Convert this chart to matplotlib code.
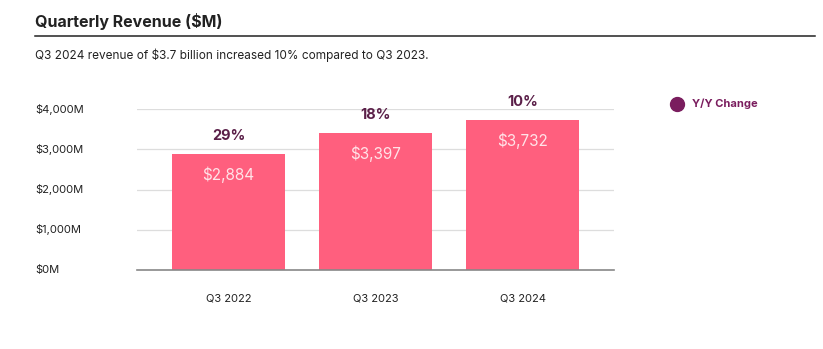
import matplotlib.pyplot as plt
from matplotlib.lines import Line2D

plt.rcParams['font.family'] = ['Inter', 'DejaVu Sans']

quarters = ['Q3 2022', 'Q3 2023', 'Q3 2024']
revenue = [2884, 3397, 3732]
yoy_change = ['29%', '18%', '10%']
yticks = [0, 1000, 2000, 3000, 4000]
ytick_labels = ['$0M', '$1,000M', '$2,000M', '$3,000M', '$4,000M']

bar_color = '#FF5F7E'
purple = '#6E1F57'

fig = plt.figure(figsize=(8.23, 3.49), dpi=100)
ax = fig.add_axes([137/823, 79/349, 477/823, 161/349])

x = range(len(quarters))
ax.bar(x, revenue, width=0.77, color=bar_color, zorder=2)

# подписи на столбцах и над ними
for i, v in enumerate(revenue):
    ax.annotate(f'${v:,}', (i, v), xytext=(0, -15), textcoords='offset points',
                ha='center', va='center', color='#FFE3E8', fontsize=11)
    ax.annotate(yoy_change[i], (i, v), xytext=(0, 13), textcoords='offset points',
                ha='center', va='center', color='#5B2049', fontsize=10.5,
                fontweight='bold', annotation_clip=False)

ax.set_xlim(-0.622, 2.622)
ax.set_ylim(0, 4000)
ax.set_yticks(yticks)
ax.set_yticklabels([])
ax.grid(axis='y', color='#DDDDDD', linewidth=0.9, zorder=0)
ax.set_xticks(list(x))
ax.set_xticklabels(quarters, fontsize=8, color='#222222')
ax.tick_params(axis='x', length=0, pad=17)
ax.tick_params(axis='y', length=0)
for s in ['top', 'right', 'left']:
    ax.spines[s].set_visible(False)
ax.spines['bottom'].set_color('#888888')
ax.spines['bottom'].set_linewidth(1.2)

# подписи оси Y выровнены по левому краю
for t, lab in zip(yticks, ytick_labels):
    y_fig = (79 + t / 4000 * 161) / 349
    fig.text(35/823, y_fig, lab, ha='left', va='center', fontsize=8, color='#222222')

# заголовок
fig.text(35/823, 1 - 22/349, 'Quarterly Revenue ($M)', ha='left', va='center',
         fontsize=11.5, fontweight='bold', color='#222222')
fig.add_artist(Line2D([35/823, 815/823], [1 - 36/349, 1 - 36/349],
                      color='#222222', linewidth=1.1))
fig.text(35/823, 1 - 55/349,
         'Q3 2024 revenue of $3.7 billion increased 10% compared to Q3 2023.',
         ha='left', va='center', fontsize=8.5, color='#222222')

# легенда
fig.add_artist(Line2D([677/823], [1 - 104/349], marker='o', markersize=10,
                      color='#7A1D5E', linestyle='none'))
fig.text(692/823, 1 - 104/349, 'Y/Y Change', ha='left', va='center',
         fontsize=8, fontweight='bold', color='#7A1D5E')

plt.savefig('out.png', dpi=100)
